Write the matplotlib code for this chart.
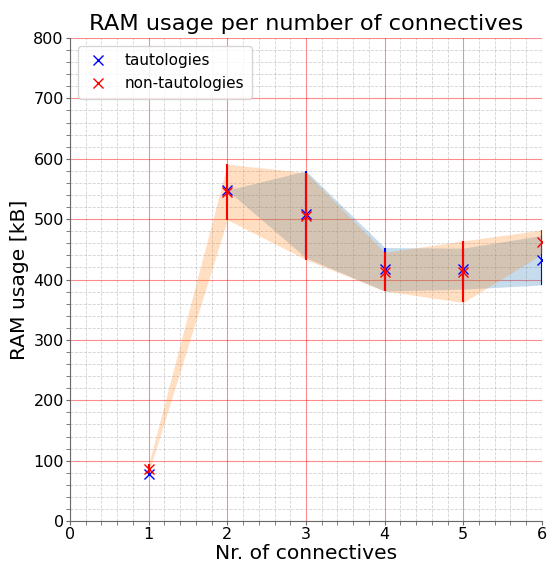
import numpy as np
import matplotlib
matplotlib.use("Agg")
import matplotlib.pyplot as plt
from matplotlib.ticker import MultipleLocator, AutoMinorLocator

connectives = [1, 2, 3, 4, 5, 6]

# tautologies: mean and std of RAM usage [kB]
taut_mean = [78, 548, 508, 417, 418, 432]
taut_std = [0, 0, 72, 36, 34, 41]

# non-tautologies
non_taut_mean = [87, 545, 505, 413, 413, 462]
non_taut_std = [7, 46, 72, 32, 51, 20]

x = np.array(connectives)
tm, ts = np.array(taut_mean), np.array(taut_std)
nm, ns = np.array(non_taut_mean), np.array(non_taut_std)

fig = plt.figure(figsize=(5.53, 5.67), dpi=100)
ax = fig.add_axes([0.1266, 0.081, 0.8534, 0.852])

ax.fill_between(x, tm - ts, tm + ts, color='tab:blue', alpha=0.25, linewidth=0)
ax.fill_between(x, nm - ns, nm + ns, color='tab:orange', alpha=0.25, linewidth=0)

ax.errorbar(x, tm, yerr=ts, fmt='none', ecolor='blue', elinewidth=1.5)
ax.plot(x, tm, 'x', color='blue', markersize=6.5, label='tautologies')
ax.errorbar(x, nm, yerr=ns, fmt='none', ecolor='red', elinewidth=1.5)
ax.plot(x, nm, 'x', color='red', markersize=6.5, label='non-tautologies')

ax.set_xlim(0, 6)
ax.set_ylim(0, 800)
ax.xaxis.set_major_locator(MultipleLocator(1))
ax.xaxis.set_minor_locator(AutoMinorLocator(5))
ax.yaxis.set_major_locator(MultipleLocator(100))
ax.yaxis.set_minor_locator(AutoMinorLocator(5))

ax.grid(which='major', color='red', linewidth=0.8, alpha=0.45)
ax.grid(which='minor', color='gray', linestyle='--', linewidth=0.6, alpha=0.35)
ax.set_axisbelow(True)

for s in ['top', 'right']:
    ax.spines[s].set_visible(False)
for s in ['left', 'bottom']:
    ax.spines[s].set_color('dimgray')
ax.tick_params(which='both', colors='dimgray', labelcolor='black',
               labelsize=11.5, length=3, pad=1.5)

ax.set_title('RAM usage per number of connectives', fontsize=16.2)
ax.set_xlabel('Nr. of connectives', fontsize=14.6, labelpad=1)
ax.set_ylabel('RAM usage [kB]', fontsize=14.6, labelpad=3)
ax.legend(loc='upper left', fontsize=11, handletextpad=1.0, borderpad=0.5,
          handlelength=1.6)

fig.savefig('out.png', dpi=100)
